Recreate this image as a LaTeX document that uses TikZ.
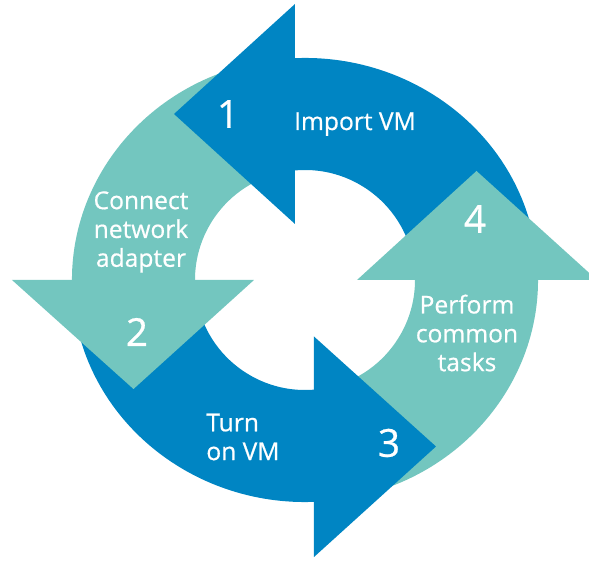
\documentclass[tikz,border=0pt]{standalone}
\usepackage{fontspec}
\setmainfont{Open Sans}
\newfontfamily\stepfont{Open Sans}[FakeBold=0.6]
\usepackage{xcolor}
\definecolor{vmblue}{RGB}{0,133,195}
\definecolor{vmteal}{RGB}{115,198,191}

\begin{document}
\begin{tikzpicture}[x=0.02cm,y=0.02cm,
        stepnum/.style={text=white,font=\stepfont\fontsize{22}{26}\selectfont,inner sep=0pt},
        steptext/.style={text=white,font=\stepfont\fontsize{14}{16.4}\selectfont,inner sep=0pt,align=center}]
            \useasboundingbox (-305,-281) rectangle (284,280);

            \begin{scope}
                \clip (-305,-281) rectangle (284,280);
                % ring parts
                \fill[vmblue] (100:233 and 222) arc[start angle=100,end angle=10,x radius=233,y radius=222]
                    -- (10:110) arc[start angle=10,end angle=100,radius=110] -- cycle;
                \fill[vmteal] (190:233 and 222) arc[start angle=190,end angle=100,x radius=233,y radius=222]
                    -- (100:110) arc[start angle=100,end angle=190,radius=110] -- cycle;
                \fill[vmblue] (280:233 and 222) arc[start angle=280,end angle=190,x radius=233,y radius=222]
                    -- (190:110) arc[start angle=190,end angle=280,radius=110] -- cycle;
                \fill[vmteal] (370:233 and 222) arc[start angle=370,end angle=280,x radius=233,y radius=222]
                    -- (280:110) arc[start angle=280,end angle=370,radius=110] -- cycle;

                % heads
                \fill[vmblue] (-10,276) -- (-131,166) -- (-10,56) -- cycle;
                \fill[vmteal] (-293,0) -- (-171.5,-109) -- (-51,0) -- cycle;
                \fill[vmblue] (9,-56.5) -- (131,-166.5) -- (9,-277) -- cycle;
                \fill[vmteal] (52,0) -- (171.5,109) -- (292,0) -- cycle;
            \end{scope}

            \node[stepnum] (num1) at (-77,166) {1};
            \node[stepnum] (num2) at (-168,-52) {2};
            \node[stepnum] (num3) at (84,-163) {3};
            \node[stepnum] (num4) at (170,61) {4};

            \node[steptext,anchor=base] (import) at (50,150) {Import VM};
            \node[steptext] (connect) at (-164,48) {Connect\\network\\adapter};
            \node[steptext,align=left,anchor=west] (turnon) at (-99,-157) {Turn\\on VM};
            \node[steptext] (perform) at (162,-53) {Perform\\common\\tasks};
        \end{tikzpicture}
\end{document}
